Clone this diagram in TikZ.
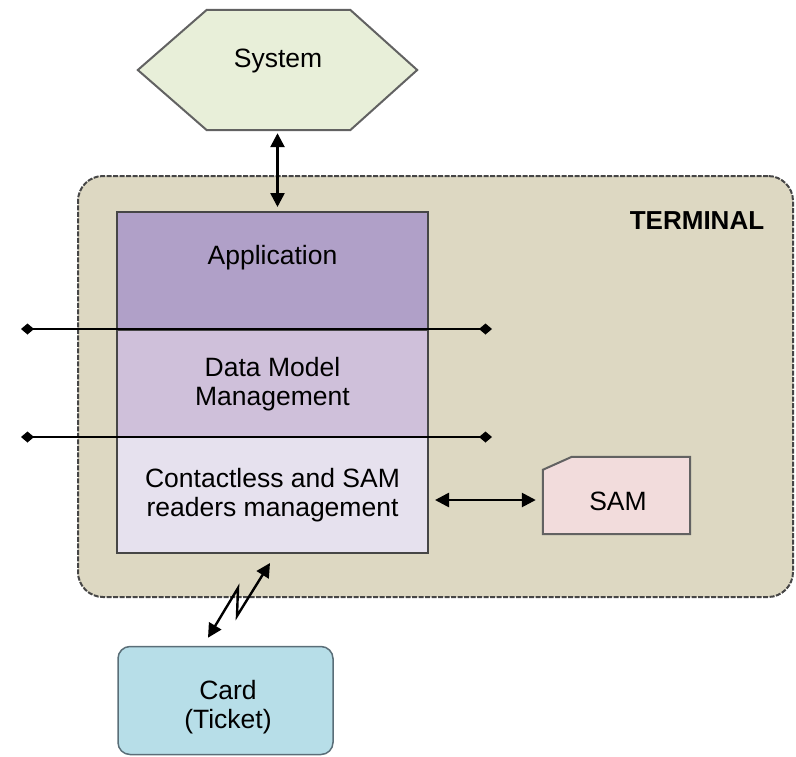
\documentclass[tikz,border=0pt]{standalone}
\usepackage{fontspec}
\setmainfont{Liberation Sans}
\usetikzlibrary{arrows.meta}
\definecolor{hexfill}{RGB}{232,239,217}
\definecolor{termfill}{RGB}{221,216,194}
\definecolor{appfill}{RGB}{176,160,200}
\definecolor{dmfill}{RGB}{207,192,218}
\definecolor{crfill}{RGB}{230,225,238}
\definecolor{samfill}{RGB}{242,220,220}
\definecolor{cardfill}{RGB}{183,222,232}
\definecolor{edgecol}{RGB}{70,70,70}
\definecolor{cardedge}{RGB}{90,110,120}
\begin{document}
\begin{tikzpicture}[x=1pt,y=-1pt,
  every node/.style={font=\fontsize{26.5}{28.5}\selectfont, align=center, inner sep=0pt},
  layerbox/.style={draw=edgecol, line width=2pt, minimum width=311pt},
  biarrow/.style={line width=2.6pt, {Triangle[length=14pt,width=14pt]}-{Triangle[length=14pt,width=14pt]}},
  busline/.style={line width=2.2pt, {Diamond[length=13pt,width=11pt]}-{Diamond[length=13pt,width=11pt]}},
  shapeedge/.style={draw=edgecol!85, line width=2pt},
]
\useasboundingbox (0,0) rectangle (796,756);
% terminal
\node[draw=edgecol, fill=termfill, rounded corners=25pt, dash pattern=on 5pt off 1.5pt,
      line width=2pt, minimum width=715pt, minimum height=421pt] (term) at (435.5,386.5) {};
\node[font=\bfseries\fontsize{26}{28}\selectfont] (termlbl) at (697,221) {TERMINAL};
% system hexagon
\node[minimum width=279pt, minimum height=120pt] (sys) at (277.5,70) {};
\draw[shapeedge, fill=hexfill] (sys.west) -- ([xshift=69pt]sys.north west) -- ([xshift=-67pt]sys.north east)
   -- (sys.east) -- ([xshift=-67pt]sys.south east) -- ([xshift=69pt]sys.south west) -- cycle;
\node (systxt) at (278,61) {System};
% stack
\node[layerbox, fill=appfill, minimum height=117pt] (app) at (272.5,270.5) {};
\node (apptxt) at (272.5,258) {Application};
\node[layerbox, fill=dmfill, minimum height=108pt] (dm) at (272.5,384) {Data Model\\Management};
\node[layerbox, fill=crfill, minimum height=116pt] (cr) at (272.5,495) {Contactless and SAM\\readers management};
% bus lines
\coordinate (b1l) at (21,329);
\coordinate (b1r) at (492,329);
\coordinate (b2l) at (21,437);
\coordinate (b2r) at (492,437);
\draw[busline] (b1l) -- (b1r);
\draw[busline] (b2l) -- (b2r);
% SAM
\node[minimum width=147pt, minimum height=77pt] (sam) at (616.5,495.5) {};
\draw[shapeedge, fill=samfill] ([yshift=-13pt]sam.north west) -- ([xshift=29pt]sam.north west)
   -- (sam.north east) -- (sam.south east) -- (sam.south west) -- cycle;
\node (samtxt) at (618,501) {SAM};
% card
\node[draw=cardedge, fill=cardfill, rounded corners=12pt, line width=1.5pt,
      minimum width=215pt, minimum height=108pt] (card) at (225.5,700.5) {};
\node (cardtxt) at (228,707) {Card\\(Ticket)};
% arrows
\draw[biarrow] ([yshift=-3pt]sys.south) -- ([yshift=4pt]sys.south |- app.north);
\coordinate (samin) at ([yshift=-4.5pt]sam.west);
\draw[biarrow] ([xshift=6pt]cr.east |- samin) -- ([xshift=-7pt]samin);
\draw[biarrow, line width=2.4pt] ([xshift=-2.5pt,yshift=-9pt]cr.south) -- ++(-33,53) -- ++(1,-28)
   -- ([xshift=-17.5pt,yshift=8pt]card.north);
\end{tikzpicture}
\end{document}
